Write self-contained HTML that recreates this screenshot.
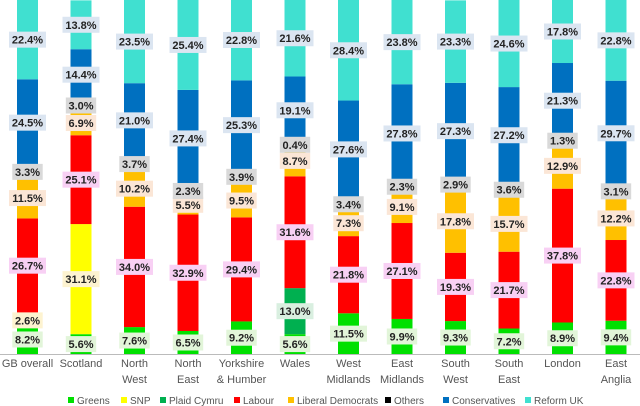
<!DOCTYPE html>
<html><head><meta charset="utf-8"><style>
body{margin:0;background:#fff;}
svg{display:block;font-family:"Liberation Sans",sans-serif;}
</style></head><body>
<svg id="c" width="640" height="406"></svg>
<script>
const categories=[["GB overall"],["Scotland"],["North","West"],["North","East"],["Yorkshire","& Humber"],["Wales"],["West","Midlands"],["East","Midlands"],["South","West"],["South","East"],["London"],["East","Anglia"]];
const seriesNames=["Greens","SNP","Plaid Cymru","Labour","Liberal Democrats","Others","Conservatives","Reform UK"];
const greens=[8.2,5.6,7.6,6.5,9.2,5.6,11.5,9.9,9.3,7.2,8.9,9.4];
const snp=[2.6,31.1,0,0,0,0,0,0,0,0,0,0];
const plaid=[0.8,0,0,0,0,13.0,0,0,0,0,0,0];
const labour=[26.7,25.1,34.0,32.9,29.4,31.6,21.8,27.1,19.3,21.7,37.8,22.8];
const libdem=[11.5,6.9,10.2,5.5,9.5,8.7,7.3,9.1,17.8,15.7,12.9,12.2];
const others=[3.3,3.0,3.7,2.3,3.9,0.4,3.4,2.3,2.9,3.6,1.3,3.1];
const cons=[24.5,14.4,21.0,27.4,25.3,19.1,27.6,27.8,27.3,27.2,21.3,29.7];
const reform=[22.4,13.8,23.5,25.4,22.8,21.6,28.4,23.8,23.3,24.6,17.8,22.8];
const series=[greens,snp,plaid,labour,libdem,others,cons,reform];
const colors=["#00e000","#ffff00","#00b050","#ff0000","#ffc000","#000000","#0070c0","#40e0d0"];
const labelBg=["#e2f5d9","#fdf3d0","#d9efe0","#f8d0f4","#fbe6d6","#d9d9d9","#dbe5f1","#dbe5f1"];
const keys=["greens","snp","plaid-cymru","labour","liberal-democrats","others","conservatives","reform-uk"];
const svg=document.getElementById('c');
const NS="http://www.w3.org/2000/svg";
const y0=354, h=354, x0=27.5, step=53.5, bw=21;
const xs=i=>x0+i*step;
const ys=v=>v/100*h;
function mk(t,a){const e=document.createElementNS(NS,t);for(const k in a)e.setAttribute(k,a[k]);svg.appendChild(e);return e;}
categories.forEach((cat,i)=>{
  let acc=0;
  series.forEach((s,j)=>{
    const v=s[i]; if(!v) {return;}
    const yb=y0-ys(acc), yt=y0-ys(acc+v);
    const r=mk('rect',{x:xs(i)-bw/2,y:yt,width:bw,height:yb-yt,fill:colors[j]});
    
    
    acc+=v;
  });
});
categories.forEach((cat,i)=>{
  let acc=0;
  series.forEach((s,j)=>{
    const v=s[i]; if(!v){return;}
    const cy=y0-ys(acc+v/2); acc+=v;
    if(j===2&&v<1) return;
    const txt=v.toFixed(1)+'%';
    const w=txt.length*6.6+4;
    const b=mk('rect',{x:xs(i)-w/2,y:cy-8,width:w,height:16,fill:labelBg[j]});
    
    
    const t=mk('text',{x:xs(i),y:cy+4,'text-anchor':'middle','font-size':'11','font-weight':'bold',fill:'#222'});
    t.textContent=txt;
    
    
  });
  cat.forEach((line,k)=>{
    const t=mk('text',{x:xs(i),y:367+k*16,'text-anchor':'middle','font-size':'11',fill:'#555'});
    t.textContent=line;
    
    
  });
});
const ax=mk('line',{x1:0,x2:640,y1:354.5,y2:354.5,stroke:'#bbb'});


const legX=[68,121,160,234,288,385,443,525];
seriesNames.forEach((n,j)=>{
  const r=mk('rect',{x:legX[j],y:397,width:6,height:6,fill:colors[j]});
  
  
  const t=mk('text',{x:legX[j]+9,y:404,'font-size':'10',fill:'#555'});
  t.textContent=n;
  
  
});
</script>
</body></html>
